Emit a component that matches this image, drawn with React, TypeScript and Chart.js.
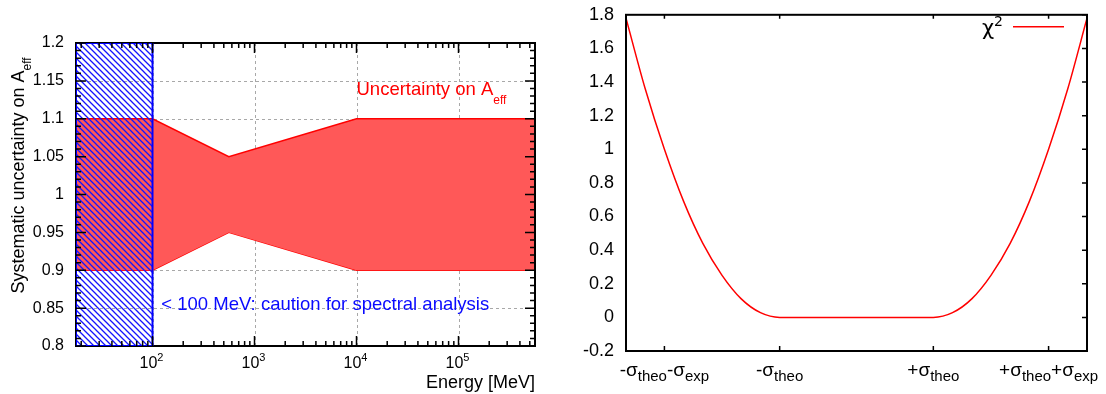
import React, { useEffect, useRef } from "react";
import { Chart, registerables } from "chart.js";
Chart.register(...registerables);

const FONT = '"Liberation Sans", Arial, Helvetica, sans-serif';

// ---------- Left panel data ----------
const energyRange = [17.78, 562341]; // MeV, axis limits
const bandEnergy = [17.78, 100, 560, 10000, 562341];
const bandUpper = [1.1, 1.1, 1.05, 1.1, 1.1];
const bandLower = [0.9, 0.9, 0.95, 0.9, 0.9];
const cautionEnergy = [17.78, 100];
const cautionLimits = [0.8, 1.2];
const aeffTicks = [0.8, 0.85, 0.9, 0.95, 1, 1.05, 1.1, 1.15, 1.2];
const energyDecades = [100, 1000, 10000, 100000];
const energyExponents = ["2", "3", "4", "5"];

// ---------- Right panel data ----------
const deviation = [-3, -2.75, -2.5, -2.25, -2, -1.75, -1.5, -1.25, -1, 0, 1, 1.25, 1.5, 1.75, 2, 2.25, 2.5, 2.75, 3];
const chi2 = [1.78, 1.36, 1.0, 0.69, 0.44, 0.25, 0.11, 0.028, 0, 0, 0, 0.028, 0.11, 0.25, 0.44, 0.69, 1.0, 1.36, 1.78];
const deviationRange = [-3, 3];
const chi2Ticks = [-0.2, 0, 0.2, 0.4, 0.6, 0.8, 1, 1.2, 1.4, 1.6, 1.8];
const sigmaTicks = [-2.5, -1, 1, 2.5];
type Part = [string, "m" | "s" | "u"];
const sigmaLabels: Part[][] = [
  [["-σ", "m"], ["theo", "s"], ["-σ", "m"], ["exp", "s"]],
  [["-σ", "m"], ["theo", "s"]],
  [["+σ", "m"], ["theo", "s"]],
  [["+σ", "m"], ["theo", "s"], ["+σ", "m"], ["exp", "s"]],
];

function drawRich(
  ctx: CanvasRenderingContext2D,
  parts: Part[],
  x: number,
  baseline: number,
  align: "left" | "center" | "right",
  main: number,
  small: number,
  subDy: number,
  supDy: number,
  color: string,
  family: string = FONT
) {
  const fontFor = (k: string) => `${k === "m" ? main : small}px ${family}`;
  let total = 0;
  const widths: number[] = [];
  for (const [t, k] of parts) {
    ctx.font = fontFor(k);
    const w = ctx.measureText(t).width;
    widths.push(w);
    total += w;
  }
  let cx = align === "left" ? x : align === "center" ? x - total / 2 : x - total;
  ctx.fillStyle = color;
  ctx.textAlign = "left";
  ctx.textBaseline = "alphabetic";
  parts.forEach(([t, k], i) => {
    ctx.font = fontFor(k);
    const dy = k === "s" ? subDy : k === "u" ? -supDy : 0;
    ctx.fillText(t, cx, baseline + dy);
    cx += widths[i];
  });
}

function hatchPattern(): CanvasPattern | string {
  const c = document.createElement("canvas");
  c.width = 6;
  c.height = 6;
  const g = c.getContext("2d");
  if (!g) return "rgba(0,0,255,0.3)";
  g.strokeStyle = "#1414ff";
  g.lineWidth = 1.3;
  g.beginPath();
  g.moveTo(-1, -1);
  g.lineTo(7, 7);
  g.moveTo(-1, 5);
  g.lineTo(1, 7);
  g.moveTo(5, -1);
  g.lineTo(7, 1);
  g.stroke();
  return g.createPattern(c, "repeat") as CanvasPattern;
}

function tickStroke(ctx: CanvasRenderingContext2D) {
  ctx.setLineDash([]);
  ctx.strokeStyle = "#000";
  ctx.lineWidth = 1.5;
  ctx.globalAlpha = 1;
}

function leftConfig(): any {
  const framePlugin = {
    id: "leftDecor",
    beforeDatasetsDraw(chart: any) {
      const { ctx, chartArea: a, scales } = chart;
      const xs = scales.x, ys = scales.y;
      ctx.save();
      ctx.strokeStyle = "#a8a8a8";
      ctx.lineWidth = 1;
      ctx.setLineDash([3, 3]);
      ctx.beginPath();
      energyDecades.forEach((v) => {
        const px = Math.round(xs.getPixelForValue(v)) + 0.5;
        ctx.moveTo(px, a.top);
        ctx.lineTo(px, a.bottom);
      });
      aeffTicks.slice(1, -1).forEach((v) => {
        const py = Math.round(ys.getPixelForValue(v)) + 0.5;
        ctx.moveTo(a.left, py);
        ctx.lineTo(a.right, py);
      });
      ctx.stroke();
      ctx.restore();
    },
    beforeDatasetDraw(chart: any, args: any) {
      if (args.index !== 1) return;
      const { ctx, chartArea: a } = chart;
      ctx.save();
      ctx.setLineDash([]);
      ctx.strokeStyle = "#000";
      ctx.lineWidth = 2;
      ctx.strokeRect(a.left, a.top, a.right - a.left, a.bottom - a.top);
      ctx.restore();
    },
    afterDatasetsDraw(chart: any) {
      const { ctx, chartArea: a, scales } = chart;
      const xs = scales.x, ys = scales.y;
      ctx.save();
      tickStroke(ctx);
      ctx.beginPath();
      for (let k = 0; k <= 40; k++) {
        const v = cautionLimits[0] + k * 0.01;
        const len = k % 5 === 0 ? 10 : 5;
        const py = ys.getPixelForValue(v);
        ctx.moveTo(a.left, py);
        ctx.lineTo(a.left + len, py);
        ctx.moveTo(a.right, py);
        ctx.lineTo(a.right - len, py);
      }
      for (let d = 1; d <= 5; d++) {
        for (let m = 1; m <= 9; m++) {
          const v = m * Math.pow(10, d);
          if (v < energyRange[0] || v > energyRange[1]) continue;
          const len = m === 1 ? 10 : 5;
          const px = xs.getPixelForValue(v);
          ctx.moveTo(px, a.bottom);
          ctx.lineTo(px, a.bottom - len);
          ctx.moveTo(px, a.top);
          ctx.lineTo(px, a.top + len);
        }
      }
      ctx.stroke();
      ctx.restore();

      energyDecades.forEach((v, i) => {
        const px = xs.getPixelForValue(v);
        drawRich(ctx, [["10", "m"], [energyExponents[i], "u"]], px - 1, a.bottom + 22, "center", 16, 11, 0, 7, "#000");
      });
      drawRich(ctx, [["Energy [MeV]", "m"]], a.right, a.bottom + 42, "right", 18, 12, 0, 0, "#000");
      ctx.save();
      ctx.translate(18, (a.top + a.bottom) / 2 - 19);
      ctx.rotate(-Math.PI / 2);
      ctx.font = `18px ${FONT}`;
      const w1 = ctx.measureText("Systematic uncertainty on A").width;
      ctx.font = `12px ${FONT}`;
      const w2 = ctx.measureText("eff").width;
      drawRich(ctx, [["Systematic uncertainty on A", "m"], ["eff", "s"]], -(w1 + w2) / 2, 6, "left", 18, 12, 7, 0, "#000");
      ctx.restore();
      drawRich(ctx, [["Uncertainty on A", "m"], ["eff", "s"]], xs.getPixelForValue(10000), ys.getPixelForValue(1.131), "left", 18.5, 12, 9, 0, "#ff0000");
      drawRich(ctx, [["< 100 MeV: caution for spectral analysis", "m"]], xs.getPixelForValue(122), ys.getPixelForValue(0.8475), "left", 18.5, 12, 0, 0, "#0a0aff");
    },
  };

  return {
    type: "line",
    data: {
      datasets: [
        {
          data: [
            { x: cautionEnergy[0], y: cautionLimits[0] },
            { x: cautionEnergy[0], y: cautionLimits[1] },
            { x: cautionEnergy[1], y: cautionLimits[1] },
            { x: cautionEnergy[1], y: cautionLimits[0] },
            { x: cautionEnergy[0], y: cautionLimits[0] },
          ],
          borderColor: "#0000ff",
          borderWidth: 2,
          fill: false,
          pointRadius: 0,
        },
        {
          data: cautionEnergy.map((x) => ({ x, y: cautionLimits[1] })),
          borderWidth: 0,
          borderColor: "rgba(0,0,0,0)",
          backgroundColor: hatchPattern(),
          fill: { value: cautionLimits[0] },
          pointRadius: 0,
        },
        {
          data: bandEnergy.map((x, i) => ({ x, y: bandUpper[i] })),
          borderColor: "#ff0000",
          borderWidth: 1.5,
          backgroundColor: "rgb(255, 88, 88)",
          fill: "+1",
          pointRadius: 0,
        },
        {
          data: bandEnergy.map((x, i) => ({ x, y: bandLower[i] })),
          borderColor: "#ff0000",
          borderWidth: 1.5,
          fill: false,
          pointRadius: 0,
        },
      ],
    },
    options: {
      animation: false,
      responsive: false,
      devicePixelRatio: 1,
      events: [],
      layout: { padding: { left: 0, right: 25, top: 43, bottom: 48 } },
      plugins: { legend: { display: false }, tooltip: { enabled: false } },
      scales: {
        x: { type: "logarithmic", min: energyRange[0], max: energyRange[1], display: false },
        y: {
          type: "linear",
          min: cautionLimits[0],
          max: cautionLimits[1],
          afterBuildTicks: (s: any) => {
            s.ticks = aeffTicks.map((v) => ({ value: v }));
          },
          afterFit: (s: any) => {
            s.width = 76;
          },
          grid: { display: false },
          border: { display: false },
          ticks: {
            autoSkip: false,
            padding: 4,
            color: "#000",
            font: { family: FONT, size: 16 },
            callback: (v: any) => String(v),
          },
        },
      },
    },
    plugins: [framePlugin],
  };
}

function rightConfig(): any {
  const decor = {
    id: "rightDecor",
    afterDatasetsDraw(chart: any) {
      const { ctx, chartArea: a, scales } = chart;
      const xs = scales.x, ys = scales.y;
      ctx.save();
      ctx.setLineDash([]);
      ctx.strokeStyle = "#000";
      ctx.lineWidth = 2;
      ctx.strokeRect(a.left, a.top, a.right - a.left, a.bottom - a.top);
      tickStroke(ctx);
      ctx.beginPath();
      sigmaTicks.forEach((v) => {
        const px = xs.getPixelForValue(v);
        ctx.moveTo(px, a.bottom);
        ctx.lineTo(px, a.bottom - 5);
        ctx.moveTo(px, a.top);
        ctx.lineTo(px, a.top + 4);
      });
      chi2Ticks.forEach((v) => {
        const py = ys.getPixelForValue(v);
        ctx.moveTo(a.right, py);
        ctx.lineTo(a.right - 5, py);
      });
      ctx.stroke();
      ctx.restore();

      sigmaTicks.forEach((v, i) => {
        drawRich(ctx, sigmaLabels[i], xs.getPixelForValue(v), a.bottom + 25, "center", 19, 15, 5, 0, "#000");
      });

      drawRich(ctx, [["χ", "m"], ["2", "u"]], a.right - 84, a.top + 20, "right", 21, 14, 0, 9, "#000", '"DejaVu Sans", sans-serif');
      ctx.save();
      ctx.setLineDash([]);
      ctx.strokeStyle = "#ff0000";
      ctx.lineWidth = 1.5;
      ctx.beginPath();
      ctx.moveTo(a.right - 74, a.top + 12);
      ctx.lineTo(a.right - 23, a.top + 12);
      ctx.stroke();
      ctx.restore();
    },
  };

  return {
    type: "line",
    data: {
      datasets: [
        {
          data: deviation.map((x, i) => ({ x, y: chi2[i] })),
          borderColor: "#ff0000",
          borderWidth: 1.5,
          cubicInterpolationMode: "monotone",
          pointRadius: 0,
          fill: false,
        },
      ],
    },
    options: {
      animation: false,
      responsive: false,
      devicePixelRatio: 1,
      events: [],
      layout: { padding: { left: 0, right: 19, top: 13, bottom: 43 } },
      plugins: { legend: { display: false }, tooltip: { enabled: false } },
      scales: {
        x: { type: "linear", min: deviationRange[0], max: deviationRange[1], display: false },
        y: {
          type: "linear",
          min: chi2Ticks[0],
          max: chi2Ticks[chi2Ticks.length - 1],
          afterBuildTicks: (s: any) => {
            s.ticks = chi2Ticks.map((v) => ({ value: v }));
          },
          afterFit: (s: any) => {
            s.width = 66;
          },
          grid: { display: false },
          border: { display: false },
          ticks: {
            autoSkip: false,
            padding: 4,
            color: "#000",
            font: { family: FONT, size: 18 },
            callback: (v: any) => String(v),
          },
        },
      },
    },
    plugins: [decor],
  };
}

export default function App() {
  const leftRef = useRef<HTMLCanvasElement | null>(null);
  const rightRef = useRef<HTMLCanvasElement | null>(null);

  useEffect(() => {
    const charts: Chart[] = [];
    if (leftRef.current) charts.push(new Chart(leftRef.current, leftConfig()));
    if (rightRef.current) charts.push(new Chart(rightRef.current, rightConfig()));
    return () => charts.forEach((c) => c.destroy());
  }, []);

  return (
    <div style={{ position: "absolute", left: 0, top: 0, width: 1106, height: 394, background: "#fff", overflow: "hidden" }}>
      <canvas ref={leftRef} width={560} height={394} style={{ position: "absolute", left: 0, top: 0, width: 560, height: 394 }} />
      <canvas ref={rightRef} width={546} height={394} style={{ position: "absolute", left: 560, top: 0, width: 546, height: 394 }} />
    </div>
  );
}
